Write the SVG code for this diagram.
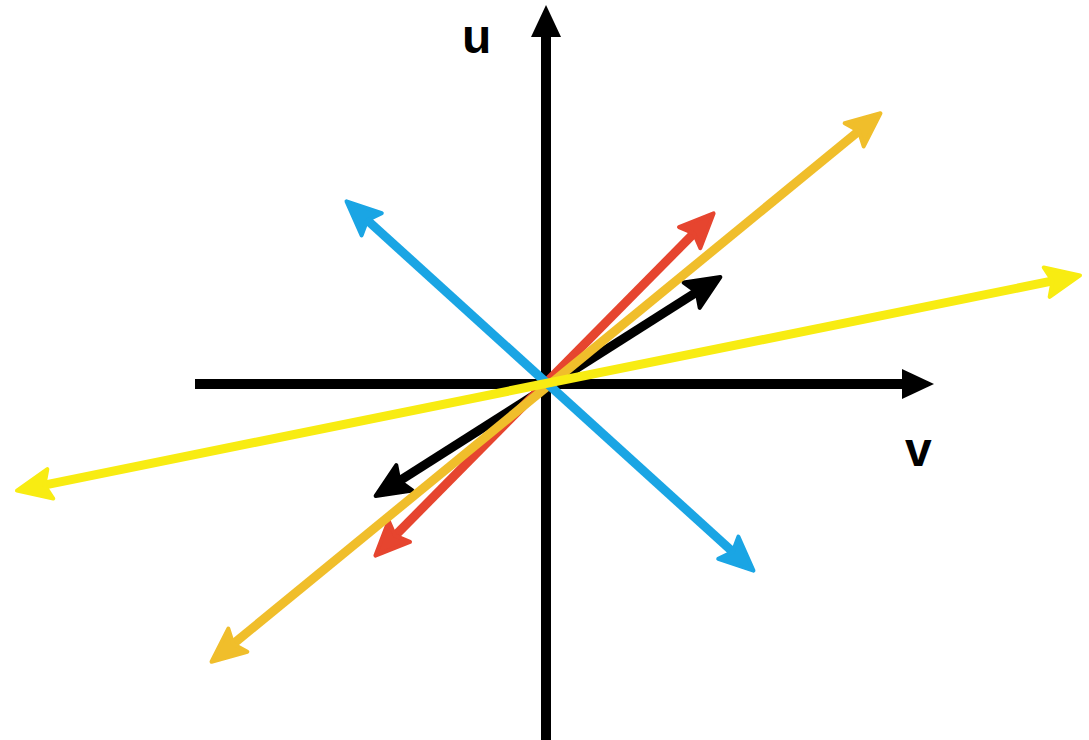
<svg xmlns="http://www.w3.org/2000/svg" width="1089" height="740" viewBox="0 0 1089 740">
<style>
.axis{stroke:#000;stroke-width:10;fill:none}
.vec{stroke-width:9;fill:none;stroke-linecap:butt}
.lbl{font-family:"Liberation Sans",Arial,sans-serif;font-weight:bold;font-size:48px;fill:#000}
</style>
<defs>
<marker id="ax" markerUnits="userSpaceOnUse" viewBox="-2 -18 40 36" refX="2" refY="0" markerWidth="40" markerHeight="36" orient="auto">
<path d="M0,-15 L32,0 L0,15 z" fill="#000"/>
</marker>
<marker id="mBlue" markerUnits="userSpaceOnUse" viewBox="-4 -20 44 40" refX="10" refY="0" markerWidth="44" markerHeight="40" orient="auto-start-reverse">
<path d="M0,-15 L34,0 L0,15 L6,0 z" fill="#1aa5e4" stroke="#1aa5e4" stroke-width="4" stroke-linejoin="round"/>
</marker>
<marker id="mRed" markerUnits="userSpaceOnUse" viewBox="-4 -20 44 40" refX="10" refY="0" markerWidth="44" markerHeight="40" orient="auto-start-reverse">
<path d="M0,-15 L34,0 L0,15 L6,0 z" fill="#e6452f" stroke="#e6452f" stroke-width="4" stroke-linejoin="round"/>
</marker>
<marker id="mOrange" markerUnits="userSpaceOnUse" viewBox="-4 -20 44 40" refX="10" refY="0" markerWidth="44" markerHeight="40" orient="auto-start-reverse">
<path d="M0,-15 L34,0 L0,15 L6,0 z" fill="#f0be2b" stroke="#f0be2b" stroke-width="4" stroke-linejoin="round"/>
</marker>
<marker id="mBlack" markerUnits="userSpaceOnUse" viewBox="-4 -20 44 40" refX="10" refY="0" markerWidth="44" markerHeight="40" orient="auto-start-reverse">
<path d="M0,-15 L34,0 L0,15 L6,0 z" fill="#000" stroke="#000" stroke-width="4" stroke-linejoin="round"/>
</marker>
<marker id="mYellow" markerUnits="userSpaceOnUse" viewBox="-4 -20 44 40" refX="10" refY="0" markerWidth="44" markerHeight="40" orient="auto-start-reverse">
<path d="M0,-15 L34,0 L0,15 L6,0 z" fill="#f8ec12" stroke="#f8ec12" stroke-width="4" stroke-linejoin="round"/>
</marker>
</defs>
<rect width="1089" height="740" fill="#fff"/>
<g id="axes">
<line id="v-axis" class="axis" x1="546" y1="740" x2="546" y2="35" marker-end="url(#ax)"/>
<line id="h-axis" class="axis" x1="195" y1="384" x2="904" y2="384" marker-end="url(#ax)"/>
</g>
<g id="connectors">
<line id="black-vec" class="vec" stroke="#000" x1="700.1" y1="289.9" x2="395.9" y2="483.1" marker-start="url(#mBlack)" marker-end="url(#mBlack)"/>
<line id="red-vec" class="vec" stroke="#e6452f" x1="696.7" y1="230.5" x2="392.3" y2="538.5" marker-start="url(#mRed)" marker-end="url(#mRed)"/>
<line id="orange-vec" class="vec" stroke="#f0be2b" x1="861.9" y1="128.5" x2="230.1" y2="646.5" marker-start="url(#mOrange)" marker-end="url(#mOrange)"/>
<line id="blue-vec" class="vec" stroke="#1aa5e4" x1="364.3" y1="217.5" x2="735.7" y2="554.5" marker-start="url(#mBlue)" marker-end="url(#mBlue)"/>
<line id="yellow-vec" class="vec" stroke="#f8ec12" x1="1056.5" y1="280.2" x2="40.5" y2="485.8" marker-start="url(#mYellow)" marker-end="url(#mYellow)"/>
</g>
<g id="label-u"><text class="lbl" x="462" y="53">u</text></g>
<g id="label-v"><text class="lbl" x="905" y="466">v</text></g>
</svg>
